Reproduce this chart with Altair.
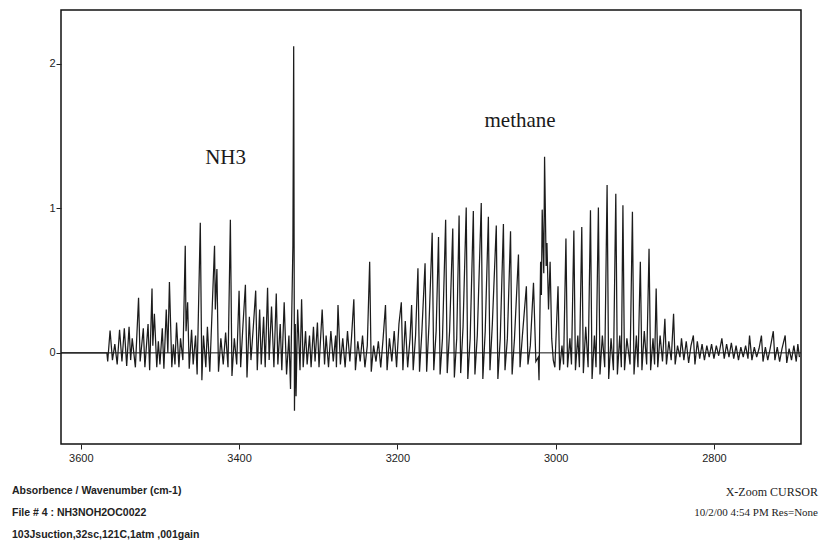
import altair as alt
import pandas as pd

# ---- spectrum: (wavenumber cm-1, absorbance) ----
nh3_band = [
    (3625, 0.0), (3567, 0.0), (3566, -0.06), (3563, 0.155), (3560, -0.05), (3557, 0.06),
    (3554, -0.08), (3551, 0.16), (3548, -0.06), (3545, 0.17), (3542, -0.09), (3539, 0.18),
    (3537, -0.05), (3535, 0.10), (3531, -0.10), (3527, 0.38), (3525, -0.06), (3521, 0.17),
    (3519, -0.10), (3515, 0.20), (3513, -0.12), (3510, 0.445), (3509, 0.05), (3507, 0.27),
    (3504, -0.10), (3502, 0.08), (3500, -0.08), (3497, 0.17), (3495, -0.11), (3492, 0.30),
    (3490, 0.00), (3488, 0.49), (3485, -0.10), (3483, 0.06), (3481, -0.08), (3479, 0.21),
    (3476, -0.10), (3474, 0.10), (3471, -0.05), (3468, 0.74), (3467, 0.15), (3465, 0.35),
    (3463, -0.11), (3460, 0.16), (3458, -0.08), (3455, 0.12), (3453, -0.15), (3449, 0.90),
    (3447, -0.19), (3445, 0.12), (3442, -0.10), (3440, 0.18), (3437, -0.13), (3431, 0.74),
    (3430, 0.30), (3428, 0.58), (3426, -0.13), (3423, 0.10), (3420, -0.08), (3417, 0.14),
    (3414, -0.10), (3411, 0.92), (3409, -0.16), (3406, 0.10), (3403, -0.08), (3400, 0.43),
    (3398, -0.10), (3395, 0.20), (3392, 0.47), (3390, -0.17), (3387, 0.25), (3385, -0.05),
    (3382, 0.18), (3379, 0.43), (3377, -0.12), (3374, 0.30), (3372, -0.08), (3369, 0.25),
    (3367, -0.10), (3364, 0.45), (3362, -0.05), (3359, 0.32), (3356, -0.10), (3353, 0.41),
    (3351, -0.08), (3348, 0.20), (3346, -0.12), (3343, 0.35), (3340, -0.15), (3337, 0.12),
    (3335, -0.25), (3332, 0.74), (3331, 2.12), (3330, -0.40), (3329, 0.20), (3328, -0.30),
    (3326, 0.30), (3323, -0.12), (3321, 0.37), (3319, -0.10), (3316, 0.15), (3314, -0.08),
    (3311, 0.12), (3309, -0.10), (3306, 0.18), (3304, -0.06), (3301, 0.21), (3299, -0.10),
    (3295, 0.30), (3292, -0.08), (3290, 0.12), (3287, -0.10), (3284, 0.15), (3281, -0.06),
    (3278, 0.12), (3277, -0.10), (3275, 0.33), (3272, -0.08), (3269, 0.10), (3266, -0.10),
    (3263, 0.15), (3260, -0.06), (3258, 0.10), (3255, 0.37), (3253, -0.12), (3250, 0.08),
    (3247, -0.06), (3244, 0.12), (3241, -0.10), (3238, 0.05), (3235, 0.63), (3233, -0.13),
    (3230, 0.05), (3227, -0.06), (3224, 0.08), (3221, -0.10), (3218, 0.10), (3215, 0.33),
    (3213, -0.12), (3210, 0.10), (3207, -0.06), (3204, 0.15), (3201, -0.10), (3198, 0.20),
    (3195, 0.35), (3193, -0.12), (3190, 0.22), (3187, -0.10), (3184, 0.10), (3182, 0.33),
    (3180, -0.12),
]

methane_band = [
    (3177, 0.12), (3174, 0.585), (3172, -0.13), (3169, 0.15), (3165, 0.62), (3163, -0.13),
    (3160, 0.20), (3156, 0.83), (3154, -0.12), (3151, 0.15), (3148, 0.80), (3146, -0.15),
    (3143, 0.10), (3139, 0.92), (3137, -0.14), (3134, 0.15), (3130, 0.86), (3128, -0.17),
    (3125, 0.10), (3122, 0.95), (3120, -0.14), (3117, 0.18), (3113, 1.005), (3111, -0.18),
    (3108, 0.10), (3104, 0.98), (3102, -0.15), (3099, 0.12), (3094, 1.035), (3092, -0.18),
    (3089, 0.15), (3085, 0.94), (3083, -0.12), (3080, 0.20), (3075, 0.88), (3073, -0.18),
    (3070, 0.10), (3066, 0.89), (3064, -0.12), (3061, 0.10), (3057, 0.84), (3055, -0.15),
    (3052, 0.10), (3047, 0.68), (3045, -0.10), (3042, 0.12), (3037, 0.46), (3035, -0.08),
    (3032, 0.05), (3028, 0.485), (3025, -0.06), (3022, -0.03), (3021, -0.19), (3019, 0.63),
    (3018, 0.40), (3017, 0.99), (3015, 0.55), (3014, 1.355), (3012, 0.60), (3011, 0.76),
    (3009, 0.30), (3007, 0.63), (3005, 0.10), (3003, -0.05), (3001, -0.10), (2997, 0.46),
    (2995, -0.12), (2992, 0.05), (2990, -0.08), (2987, 0.79), (2985, -0.10), (2982, 0.10),
    (2980, -0.08), (2977, 0.845), (2975, -0.12), (2972, 0.12), (2970, -0.10), (2967, 0.87),
    (2965, -0.14), (2962, 0.18), (2959, -0.10), (2956, 0.985), (2954, -0.18), (2951, 0.12),
    (2949, -0.10), (2946, 1.005), (2944, -0.15), (2941, 0.12), (2938, -0.10), (2935, 1.16),
    (2933, -0.18), (2930, 0.10), (2927, -0.12), (2924, 1.10), (2922, -0.15), (2919, 0.12),
    (2917, -0.10), (2915, 1.02), (2913, -0.12), (2910, 0.10), (2906, -0.08), (2903, 0.975),
    (2901, -0.15), (2898, 0.12), (2896, -0.10), (2893, 0.63), (2891, -0.12), (2888, 0.15),
    (2885, -0.08), (2882, 0.72), (2880, -0.12), (2877, 0.10), (2875, -0.08), (2873, 0.445),
    (2871, -0.10), (2868, 0.12), (2865, -0.06), (2862, 0.235), (2860, -0.08), (2857, 0.08),
    (2854, -0.05), (2851, 0.27), (2849, -0.08), (2846, 0.05), (2843, -0.03), (2841, 0.10),
]

tail_band = [
    (2838, -0.05), (2835, 0.08), (2832, -0.07), (2829, 0.05), (2826, 0.12), (2824, -0.08),
    (2821, 0.08), (2818, -0.04), (2815, 0.06), (2812, -0.05), (2809, 0.05), (2806, -0.03),
    (2803, 0.06), (2800, -0.04), (2797, 0.05), (2794, -0.02), (2790, 0.10), (2787, -0.04),
    (2784, 0.06), (2781, -0.03), (2778, 0.07), (2775, -0.04), (2772, 0.05), (2769, -0.05),
    (2766, 0.04), (2763, -0.03), (2760, 0.05), (2757, -0.04), (2755, 0.12), (2752, -0.05),
    (2749, 0.04), (2746, -0.03), (2743, 0.03), (2740, 0.12), (2738, -0.06), (2735, 0.04),
    (2732, -0.05), (2729, 0.03), (2725, 0.15), (2723, -0.05), (2720, 0.04), (2717, -0.06),
    (2714, 0.03), (2710, 0.12), (2708, -0.07), (2705, 0.03), (2702, -0.05), (2699, 0.05),
    (2696, -0.06), (2694, 0.06), (2692, -0.03),
]

x_ticks = [3600, 3400, 3200, 3000, 2800]
y_ticks = [0, 1, 2]

labels = [("NH3", 3417, 1.35), ("methane", 3045, 1.60)]

footer_left = [
    "Absorbence / Wavenumber (cm-1)",
    "File # 4 : NH3NOH2OC0022",
    "103Jsuction,32sc,121C,1atm ,001gain",
]
footer_right = ["X-Zoom CURSOR", "10/2/00  4:54 PM  Res=None"]

# ---- build tables ----
pts = nh3_band + methane_band + tail_band
spec = pd.DataFrame(pts, columns=["wn", "abs"])
spec["order"] = range(len(spec))
lab = pd.DataFrame(labels, columns=["text", "wn", "abs"])

W, H = 740, 434
xs = alt.Scale(domain=[2690, 3625], reverse=True, nice=False, zero=False)
ys = alt.Scale(domain=[-0.63, 2.37], nice=False, zero=False)

xax = alt.Axis(values=x_ticks, format="d", title=None, grid=False, tickSize=5,
               labelPadding=3, labelFontSize=11, labelFont="Liberation Sans",
               labelColor="#222", tickColor="#222", domain=False)
yax = alt.Axis(values=y_ticks, format="d", title=None, grid=False, tickSize=5,
               labelPadding=1, labelFontSize=11, labelFont="Liberation Sans",
               labelColor="#222", tickColor="#222", domain=False)

zero = alt.Chart(pd.DataFrame({"y": [0]})).mark_rule(color="#111", strokeWidth=1).encode(
    y=alt.Y("y:Q", scale=ys, axis=yax)
)

line = alt.Chart(spec).mark_line(color="#1c1c1c", strokeWidth=1.25).encode(
    x=alt.X("wn:Q", scale=xs, axis=xax),
    y=alt.Y("abs:Q", scale=ys, axis=yax),
    order="order:Q",
)

txt = alt.Chart(lab).mark_text(font="Liberation Serif", fontSize=21, color="#1a1a1a").encode(
    x=alt.X("wn:Q", scale=xs), y=alt.Y("abs:Q", scale=ys), text="text:N"
)

foot = []
for i, s in enumerate(footer_left):
    foot.append(
        alt.Chart(pd.DataFrame({"t": [s]})).mark_text(
            font="Liberation Sans", fontWeight="bold", fontSize=10.5, align="left",
            baseline="middle", color="#222"
        ).encode(x=alt.value(-49), y=alt.value(481 + 22 * i), text="t:N")
    )
for i, s in enumerate(footer_right):
    foot.append(
        alt.Chart(pd.DataFrame({"t": [s]})).mark_text(
            font="Liberation Serif", fontSize=12 if i == 0 else 11, align="right",
            baseline="middle", color="#222"
        ).encode(x=alt.value(757), y=alt.value(482 + 21 * i), text="t:N")
    )

chart = alt.layer(zero, line, txt, *foot).properties(
    width=W, height=H,
    autosize=alt.AutoSizeParams(type="none"),
    padding={"left": 53, "top": 2, "right": 20, "bottom": 99},
).configure_view(stroke="#111", strokeWidth=1.5)

chart.save("out.html", embed_options={"renderer": "svg", "actions": False})
